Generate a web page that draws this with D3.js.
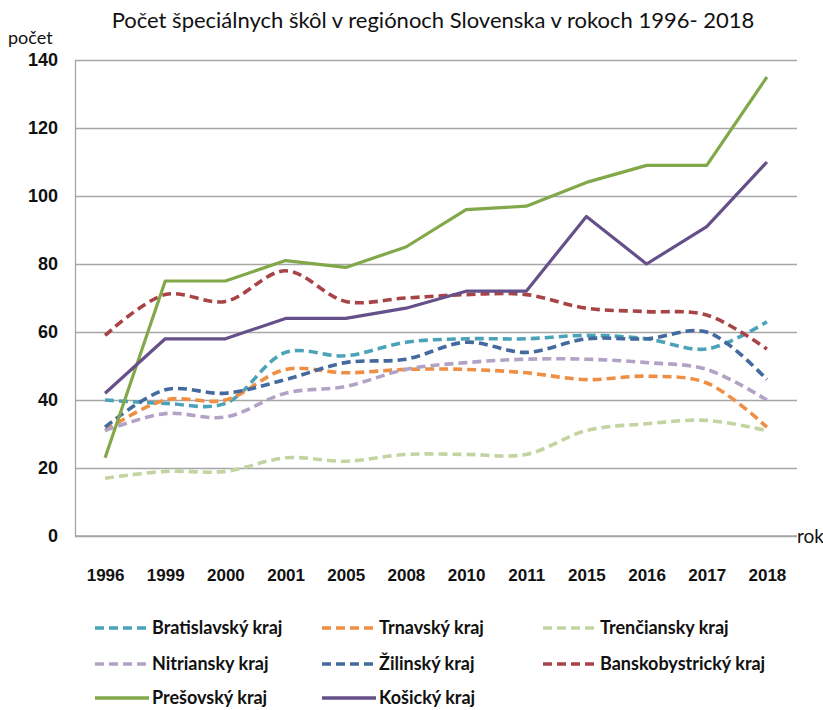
<!DOCTYPE html>
<head>
    <meta charset="utf-8">
    <title>Počet špeciálnych škôl</title>
    <script src="https://d3js.org/d3.v7.min.js"></script>
</head>
<style>
body {
  margin: 0;
  background: #fff;
  font-family: Lato, "Open Sans", sans-serif;
}
</style>
<body>
    <svg></svg>
</body>

<script>

    // Data
    var years = ["1996", "1999", "2000", "2001", "2005", "2008", "2010", "2011", "2015", "2016", "2017", "2018"];
    var yTicks = [0, 20, 40, 60, 80, 100, 120, 140];

    var bratislavsky     = [40, 39, 39, 54, 53, 57, 58, 58, 59, 58, 55, 63];
    var trnavsky         = [31, 40, 40, 49, 48, 49, 49, 48, 46, 47, 45, 32];
    var trenciansky      = [17, 19, 19, 23, 22, 24, 24, 24, 31, 33, 34, 31];
    var nitriansky       = [31, 36, 35, 42, 44, 49, 51, 52, 52, 51, 49, 40];
    var zilinsky         = [32, 43, 42, 46, 51, 52, 57, 54, 58, 58, 60, 46];
    var banskobystricky  = [59, 71, 69, 78, 69, 70, 71, 71, 67, 66, 65, 55];
    var presovsky        = [23, 75, 75, 81, 79, 85, 96, 97, 104, 109, 109, 135];
    var kosicky          = [42, 58, 58, 64, 64, 67, 72, 72, 94, 80, 91, 110];

    var series = [
        { name: "Bratislavský kraj",    values: bratislavsky,    color: "#4aa3b8", dashed: true },
        { name: "Trnavský kraj",        values: trnavsky,        color: "#ee8f45", dashed: true },
        { name: "Trenčiansky kraj",     values: trenciansky,     color: "#c3d4a0", dashed: true },
        { name: "Nitriansky kraj",      values: nitriansky,      color: "#b2a3c6", dashed: true },
        { name: "Žilinský kraj",        values: zilinsky,        color: "#43699f", dashed: true },
        { name: "Banskobystrický kraj", values: banskobystricky, color: "#a84445", dashed: true },
        { name: "Prešovský kraj",       values: presovsky,       color: "#82a84a", dashed: false },
        { name: "Košický kraj",         values: kosicky,         color: "#66508a", dashed: false }
    ];

    var width = 823;
    var height = 710;
    var margin = { top: 60, right: 26, bottom: 174, left: 75 };

    var svg = d3.select('svg')
        .attr('width', width)
        .attr('height', height);

    var x = d3.scalePoint()
        .domain(years)
        .range([margin.left, width - margin.right])
        .padding(0.5);

    var y = d3.scaleLinear()
        .domain([0, 140])
        .range([height - margin.bottom, margin.top]);

    // Title and axis names
    svg.append("text")
        .attr("x", 433)
        .attr("y", 28)
        .attr("text-anchor", "middle")
        .style("font-size", "22px")
        .attr("fill", "#111")
        .text("Počet špeciálnych škôl v regiónoch Slovenska v rokoch 1996- 2018");

    svg.append("text")
        .attr("x", 8)
        .attr("y", 44)
        .style("font-size", "18px")
        .attr("fill", "#111")
        .text("počet");

    // Gridlines
    svg.append("g")
        .attr("transform", "translate(" + margin.left + ",0)")
        .call(d3.axisLeft(y).tickValues(yTicks).tickSize(-(width - margin.left - margin.right)).tickFormat(""))
        .call(function (g) { g.select(".domain").remove(); })
        .selectAll("line")
        .attr("stroke", "#a6a6a6")
        .attr("stroke-width", 1.3);

    // Y axis labels
    var yAxis = svg.append("g")
        .attr("transform", "translate(" + margin.left + ",0)")
        .call(d3.axisLeft(y).tickValues(yTicks).tickSize(0).tickPadding(17));
    yAxis.select(".domain").attr("stroke", "#a6a6a6").attr("stroke-width", 1.3);
    yAxis.selectAll("text")
        .style("font-size", "18px")
        .style("font-weight", "bold")
        .attr("fill", "#111")
        .attr("font-family", null);

    // X axis
    var xAxis = svg.append("g")
        .attr("transform", "translate(0," + y(0) + ")")
        .call(d3.axisBottom(x).tickSize(0).tickPadding(33).tickSizeOuter(0));
    xAxis.select(".domain")
        .attr("d", "M" + margin.left + ",0H" + (width - margin.right))
        .attr("stroke", "#a6a6a6")
        .attr("stroke-width", 1.3);
    xAxis.selectAll("text")
        .style("font-size", "17px")
        .style("font-weight", "bold")
        .attr("fill", "#111")
        .attr("font-family", null);

    svg.append("text")
        .attr("x", width - margin.right)
        .attr("y", y(0) + 7)
        .style("font-size", "19px")
        .attr("fill", "#111")
        .text("rok");

    // Lines
    var smooth = d3.line()
        .x(function (d, i) { return x(years[i]); })
        .y(function (d) { return y(d); })
        .curve(d3.curveCatmullRom.alpha(0.5));

    var straight = d3.line()
        .x(function (d, i) { return x(years[i]); })
        .y(function (d) { return y(d); });

    svg.append("g")
        .selectAll("path")
        .data(series)
        .enter().append("path")
        .attr("d", function (d) { return d.dashed ? smooth(d.values) : straight(d.values); })
        .attr("fill", "none")
        .attr("stroke", function (d) { return d.color; })
        .attr("stroke-width", function (d) { return d.dashed ? 3.6 : 3.2; })
        .attr("stroke-dasharray", function (d) { return d.dashed ? "9,5" : null; })
        .attr("stroke-linejoin", "round");

    // Legend
    var legendCols = [95, 322, 543];
    var legendRows = [628, 664, 698];

    var legend = svg.append("g")
        .selectAll("g")
        .data(series)
        .enter().append("g")
        .attr("transform", function (d, i) {
            return "translate(" + legendCols[i % 3] + "," + legendRows[Math.floor(i / 3)] + ")";
        });

    legend.append("line")
        .attr("x1", 0)
        .attr("x2", 54)
        .attr("stroke", function (d) { return d.color; })
        .attr("stroke-width", 3.4)
        .attr("stroke-dasharray", function (d) { return d.dashed ? "9,5" : null; });

    legend.append("text")
        .attr("x", 57)
        .attr("dy", "0.35em")
        .style("font-size", "18px")
        .style("font-weight", "bold")
        .attr("fill", "#111")
        .text(function (d) { return d.name; });

</script>
